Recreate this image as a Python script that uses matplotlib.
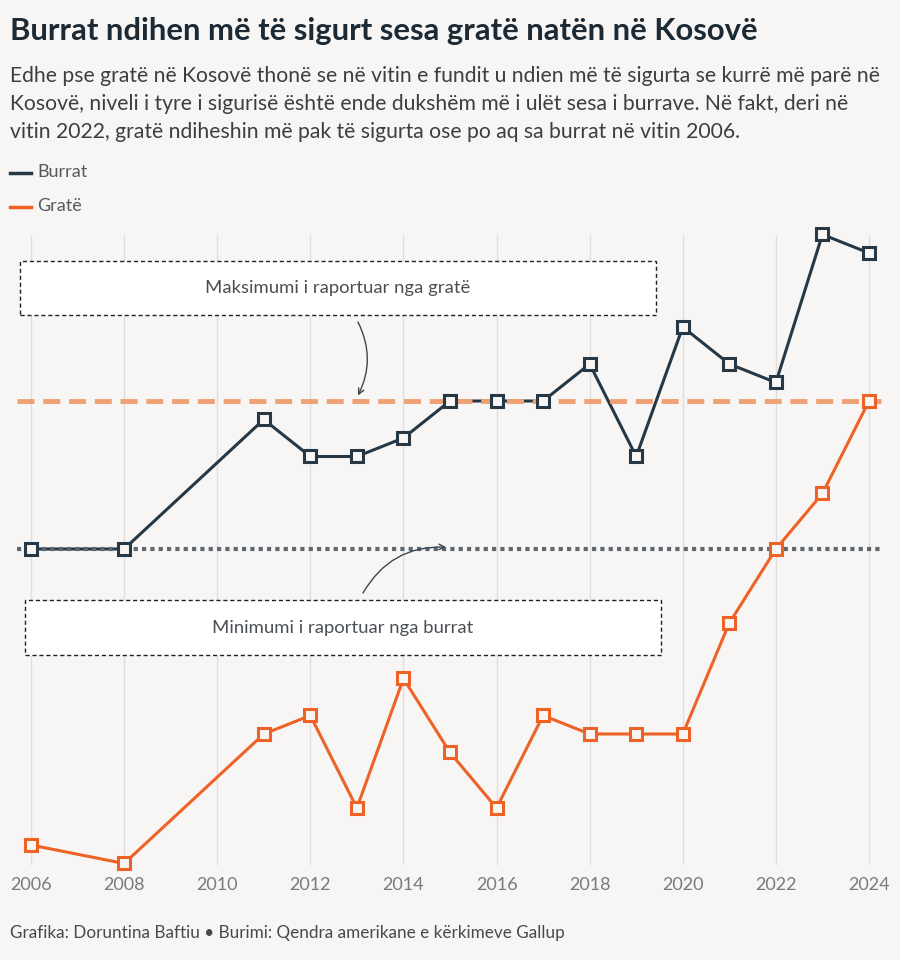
import numpy as np
import matplotlib
matplotlib.use("Agg")
import matplotlib.pyplot as plt
from matplotlib.patches import Rectangle

# --- DATA ---
years_m = [2006, 2008, 2011, 2012, 2013, 2014, 2015, 2016, 2017, 2018, 2019, 2020, 2021, 2022, 2023, 2024]
burrat = [72, 72, 79, 77, 77, 78, 80, 80, 80, 82, 77, 84, 82, 81, 89, 88]
grate = [56, 55, 62, 63, 58, 65, 61, 58, 63, 62, 62, 62, 68, 72, 75, 80]
tick_years = list(range(2006, 2025, 2))

max_grate = max(grate)
min_burrat = min(burrat)

title = "Burrat ndihen më të sigurt sesa gratë natën në Kosovë"
subtitle = ["Edhe pse gratë në Kosovë thonë se në vitin e fundit u ndien më të sigurta se kurrë më parë në",
            "Kosovë, niveli i tyre i sigurisë është ende dukshëm më i ulët sesa i burrave. Në fakt, deri në",
            "vitin 2022, gratë ndiheshin më pak të sigurta ose po aq sa burrat në vitin 2006."]
source = "Grafika: Doruntina Baftiu • Burimi: Qendra amerikane e kërkimeve Gallup"

# --- STYLE ---
bg = "#f7f6f4"
dark = "#263845"
orange = "#ee6226"
orange_light = "#f0a174"
dotgray = "#5d6872"
plt.rcParams["font.family"] = ["Lato", "DejaVu Sans"]

W, H = 900, 960
fig = plt.figure(figsize=(W / 100, H / 100), dpi=100, facecolor=bg)


def fx(px):
    return px / W


def fy(py):
    return 1 - py / H


# header
fig.text(fx(10), fy(31), title, fontsize=22.3, fontweight="bold", color="#1c2a35", va="center")
for i, line in enumerate(subtitle):
    fig.text(fx(10), fy(76 + 28 * i), line, fontsize=15.2, color="#3a3f44", va="center")

# legend
for py, col, lab in [(172, dark, "Burrat"), (206, orange, "Gratë")]:
    fig.lines.append(plt.Line2D([fx(10), fx(31)], [fy(py + 1), fy(py + 1)], color=col, lw=2.5,
                                transform=fig.transFigure))
    fig.text(fx(37), fy(py), lab, fontsize=13, color="#555a5e", va="center")

# axes
ax = fig.add_axes([0, fy(865), 1, 630 / H])
ax.set_facecolor(bg)
px_per_year = (869 - 31) / 18
ax.set_xlim(2006 - 31 / px_per_year, 2024 + 31 / px_per_year)
ax.set_ylim(72 - (865 - 549) / 18.5, 72 + (549 - 235) / 18.5)

for y in tick_years:
    ax.axvline(y, color="#e1dfdd", lw=1, zorder=0)

for s in ax.spines.values():
    s.set_visible(False)
ax.set_yticks([])
ax.set_xticks(tick_years)
ax.set_xticklabels([str(y) for y in tick_years], fontsize=13, color="#7a7a7a")
ax.tick_params(axis="x", length=0, pad=9)

x_lo = 2006 - 14 / px_per_year
x_hi = 2024 + 12 / px_per_year

# lines
ax.plot(years_m, burrat, color=dark, lw=2.2, zorder=2, clip_on=False)
ax.plot(years_m, grate, color=orange, lw=2.2, zorder=2, clip_on=False)

ax.plot([x_lo, x_hi], [max_grate, max_grate], color=orange_light, lw=3.5,
        dashes=(3.5, 1.8), zorder=3, clip_on=False)
ax.plot([x_lo, x_hi], [min_burrat, min_burrat], color=dotgray, lw=3,
        dashes=(1, 1), zorder=3, clip_on=False)

ax.plot(years_m, burrat, ls="none", marker="s", ms=8.5, mfc=bg, mec=dark, mew=2.2,
        zorder=4, clip_on=False)
ax.plot(years_m, grate, ls="none", marker="s", ms=8.5, mfc=bg, mec=orange, mew=2.2,
        zorder=4, clip_on=False)

# annotation boxes
for (x0, y0, x1, y1, txt) in [(20, 261, 656, 315, "Maksimumi i raportuar nga gratë"),
                              (25, 600, 661, 655, "Minimumi i raportuar nga burrat")]:
    fig.patches.append(Rectangle((fx(x0), fy(y1)), fx(x1 - x0), (y1 - y0) / H,
                                 transform=fig.transFigure, facecolor="white",
                                 edgecolor="#222222", lw=1, ls=(0, (3, 2)), zorder=5))
    fig.text(fx((x0 + x1) / 2), fy((y0 + y1) / 2), txt, fontsize=13.3, color="#4a4f54",
             ha="center", va="center", zorder=6)

# arrows
ax.annotate("", xy=(2006 + (358 - 31) / px_per_year, max_grate + 0.3), xycoords="data",
            xytext=(fx(358), fy(322)), textcoords="figure fraction",
            arrowprops=dict(arrowstyle="->", color="#3c464f", lw=1,
                            connectionstyle="arc3,rad=-0.25", shrinkA=0, shrinkB=0))
ax.annotate("", xy=(2006 + (446 - 31) / px_per_year, min_burrat + 0.1), xycoords="data",
            xytext=(fx(363), fy(593)), textcoords="figure fraction",
            arrowprops=dict(arrowstyle="->", color="#3c464f", lw=1,
                            connectionstyle="arc3,rad=-0.3", shrinkA=0, shrinkB=0))

fig.text(fx(10), fy(933), source, fontsize=12.3, color="#444a50", va="center")

fig.savefig("out.png", dpi=100, facecolor=bg)
